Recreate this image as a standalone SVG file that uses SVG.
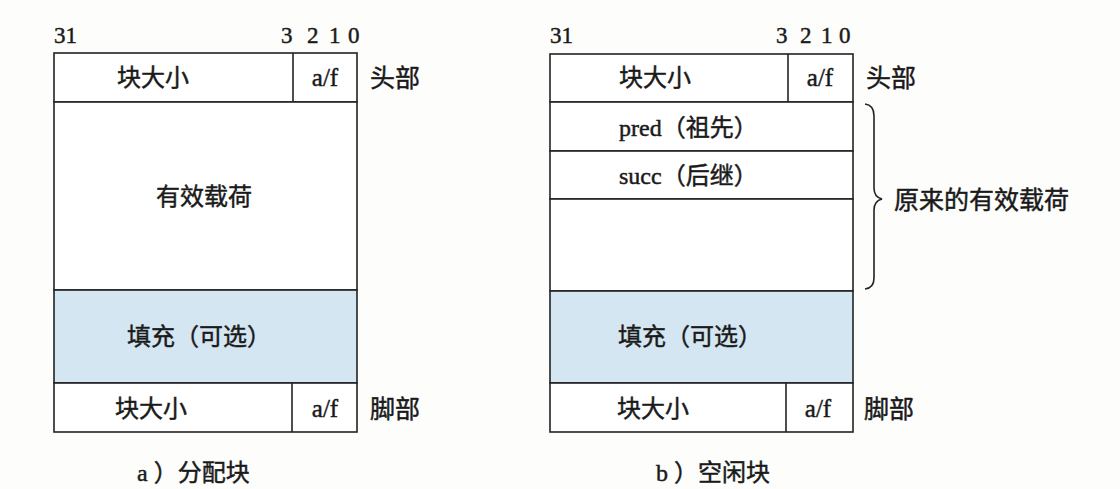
<svg xmlns="http://www.w3.org/2000/svg" width="1120" height="489" viewBox="0 0 1120 489">
<style>
.box{fill:#ffffff;stroke:#222;stroke-width:1.6}
.pad{fill:#d4e6f2;stroke:#222;stroke-width:1.6}
.ln{stroke:#222;stroke-width:1.6;fill:none}
text{fill:#1a1a1a;stroke:#1a1a1a;stroke-width:0.45}
.num{font-family:"Liberation Serif",serif;font-size:23px}
.cj{font-family:"Liberation Serif","Noto Sans CJK SC",sans-serif;font-size:24px}
.side{font-family:"Noto Sans CJK SC",sans-serif;font-size:25px}
.af{font-family:"Liberation Serif",serif;font-size:25px}
.cap{font-family:"Liberation Serif","Noto Sans CJK SC",sans-serif;font-size:24px}
</style>
<rect width="1120" height="489" fill="#fdfdfb"/>
<!-- Allocated block -->
<g id="allocated">
  <g id="a-bits">
    <text class="num" x="54" y="43">31</text>
    <text class="num" x="281" y="43">3</text>
    <text class="num" x="307" y="43">2</text>
    <text class="num" x="329" y="43">1</text>
    <text class="num" x="348" y="43">0</text>
  </g>
  <g id="a-header">
    <rect class="box" x="54" y="53" width="303" height="49"/>
    <line class="ln" x1="293" y1="53" x2="293" y2="102"/>
    <text class="cj" x="117" y="86">块大小</text>
    <text class="af" x="325" y="86" text-anchor="middle">a/f</text>
    <text class="side" x="370" y="87">头部</text>
  </g>
  <g id="a-payload">
    <rect class="box" x="54" y="102" width="303" height="188"/>
    <text class="cj" x="204" y="205" text-anchor="middle">有效载荷</text>
  </g>
  <g id="a-padding">
    <rect class="pad" x="54" y="290" width="303" height="93"/>
    <text class="cj" x="127" y="345">填充（可选）</text>
  </g>
  <g id="a-footer">
    <rect class="box" x="54" y="383" width="303" height="49"/>
    <line class="ln" x1="292" y1="383" x2="292" y2="432"/>
    <text class="cj" x="115" y="417">块大小</text>
    <text class="af" x="325" y="417" text-anchor="middle">a/f</text>
    <text class="side" x="370" y="418">脚部</text>
  </g>
  <text class="cap" x="137" y="481">a ）分配块</text>
</g>
<!-- Free block -->
<g id="free">
  <g id="b-bits">
    <text class="num" x="550" y="43">31</text>
    <text class="num" x="776" y="43">3</text>
    <text class="num" x="800" y="43">2</text>
    <text class="num" x="821" y="43">1</text>
    <text class="num" x="839" y="43">0</text>
  </g>
  <g id="b-header">
    <rect class="box" x="550" y="54" width="303" height="48"/>
    <line class="ln" x1="788" y1="54" x2="788" y2="102"/>
    <text class="cj" x="619" y="86">块大小</text>
    <text class="af" x="820" y="86" text-anchor="middle">a/f</text>
    <text class="side" x="866" y="87">头部</text>
  </g>
  <g id="b-pred">
    <rect class="box" x="550" y="102" width="303" height="49"/>
    <text class="cj" x="619" y="136">pred（祖先）</text>
  </g>
  <g id="b-succ">
    <rect class="box" x="550" y="151" width="303" height="48"/>
    <text class="cj" x="619" y="184">succ（后继）</text>
  </g>
  <g id="b-rest">
    <rect class="box" x="550" y="199" width="303" height="92"/>
  </g>
  <g id="b-padding">
    <rect class="pad" x="550" y="291" width="303" height="92"/>
    <text class="cj" x="618" y="345">填充（可选）</text>
  </g>
  <g id="b-footer">
    <rect class="box" x="550" y="383" width="303" height="49"/>
    <line class="ln" x1="786" y1="383" x2="786" y2="432"/>
    <text class="cj" x="617" y="417">块大小</text>
    <text class="af" x="818" y="417" text-anchor="middle">a/f</text>
    <text class="side" x="864" y="418">脚部</text>
  </g>
  <text class="cap" x="656" y="481">b ）空闲块</text>
</g>
<g id="connectors">
  <path class="ln" d="M865 104 Q874 105 874 116 L874 188 Q874 197 882 199 Q874 201 874 210 L874 278 Q874 288 865 289"/>
</g>
<g id="brace-label">
  <text class="side" x="894" y="209">原来的有效载荷</text>
</g>
</svg>
